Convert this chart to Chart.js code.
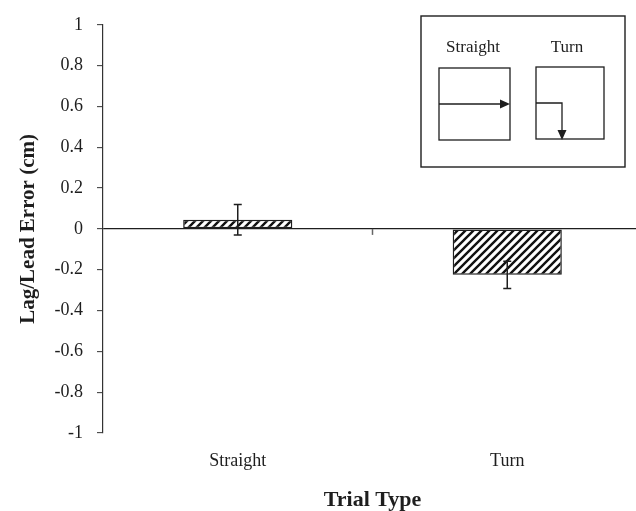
<!DOCTYPE html>
<html><head><meta charset="utf-8">
<script src="https://cdn.jsdelivr.net/npm/chart.js@4.4.1/dist/chart.umd.min.js"></script>
<style>html,body{margin:0;padding:0;overflow:hidden;background:#fff}#wrap{width:642px;height:511px}</style>
</head><body><div id="wrap"><canvas id="c" width="642" height="511"></canvas></div>
<script>
const categories = ['Straight', 'Turn'];
const meanError = [0.045, -0.225];
const errorSize = [0.075, 0.067];
const yTickValues = [1, 0.8, 0.6, 0.4, 0.2, 0, -0.2, -0.4, -0.6, -0.8, -1];
const yTickLabels = ['1', '0.8', '0.6', '0.4', '0.2', '0', '-0.2', '-0.4', '-0.6', '-0.8', '-1'];
const insetLabels = ['Straight', 'Turn'];

const FONT = '"Liberation Serif", "Times New Roman", serif';
const INK = '#1e1e1e';

const canvas = document.getElementById('c');
const ctx = canvas.getContext('2d');

function hatch() {
  const s = 8;
  const c = document.createElement('canvas');
  c.width = s; c.height = s;
  const g = c.getContext('2d');
  g.fillStyle = '#fff'; g.fillRect(0, 0, s, s);
  g.strokeStyle = '#111'; g.lineWidth = 2.4;
  g.beginPath();
  g.moveTo(-1, s + 1); g.lineTo(s + 1, -1);
  g.moveTo(-s / 2 - 1, s / 2 + 1); g.lineTo(s / 2 + 1, -s / 2 - 1);
  g.moveTo(s / 2 - 1, s * 1.5 + 1); g.lineTo(s * 1.5 + 1, s / 2 - 1);
  g.stroke();
  return ctx.createPattern(c, 'repeat');
}

const errorBars = {
  id: 'errorBars',
  afterDatasetsDraw(chart) {
    const ys = chart.scales.y;
    const meta = chart.getDatasetMeta(0);
    const c = chart.ctx;
    c.save();
    c.strokeStyle = INK; c.lineWidth = 1.5;
    meta.data.forEach((bar, i) => {
      const x = bar.x;
      const hi = ys.getPixelForValue(meanError[i] + errorSize[i]);
      const lo = ys.getPixelForValue(meanError[i] - errorSize[i]);
      c.beginPath();
      c.moveTo(x, hi); c.lineTo(x, lo);
      c.moveTo(x - 4, hi); c.lineTo(x + 4, hi);
      c.moveTo(x - 4, lo); c.lineTo(x + 4, lo);
      c.stroke();
    });
    const xs = chart.scales.x;
    const mid = (xs.getPixelForValue(0) + xs.getPixelForValue(1)) / 2;
    const y0 = ys.getPixelForValue(0);
    c.strokeStyle = '#666'; c.lineWidth = 1.5;
    c.beginPath(); c.moveTo(mid, y0); c.lineTo(mid, y0 + 6); c.stroke();
    c.restore();
  }
};

function arrowHead(c, tx, ty, dir) {
  c.beginPath();
  if (dir === 'right') { c.moveTo(tx, ty); c.lineTo(tx - 10, ty - 4.5); c.lineTo(tx - 10, ty + 4.5); }
  else { c.moveTo(tx, ty); c.lineTo(tx - 4.5, ty - 10); c.lineTo(tx + 4.5, ty - 10); }
  c.closePath(); c.fill();
}

const inset = {
  id: 'inset',
  afterDraw(chart) {
    const c = chart.ctx;
    c.save();
    c.strokeStyle = INK; c.fillStyle = INK; c.lineWidth = 1.4;
    c.strokeRect(421, 16, 204, 151);
    c.font = '17px ' + FONT;
    c.textAlign = 'center'; c.textBaseline = 'alphabetic';
    c.fillText(insetLabels[0], 473, 52);
    c.fillText(insetLabels[1], 567, 52);
    c.lineWidth = 1.3;
    c.strokeRect(439, 68, 71, 72);
    c.strokeRect(536, 67, 68, 72);
    c.beginPath(); c.moveTo(439, 104); c.lineTo(502, 104); c.stroke();
    arrowHead(c, 510, 104, 'right');
    c.beginPath(); c.moveTo(536, 103); c.lineTo(562, 103); c.lineTo(562, 131); c.stroke();
    arrowHead(c, 562, 140, 'down');
    c.restore();
  }
};

new Chart(ctx, {
  type: 'bar',
  data: {
    labels: categories,
    datasets: [{
      data: meanError,
      backgroundColor: hatch(),
      borderColor: INK,
      borderWidth: 1.5,
      borderSkipped: false,
      barPercentage: 0.405,
      categoryPercentage: 1
    }]
  },
  options: {
    responsive: false,
    devicePixelRatio: 1,
    animation: false,
    layout: { padding: { top: 22, right: 0, bottom: 0, left: 0 } },
    plugins: { legend: { display: false }, tooltip: { enabled: false } },
    scales: {
      x: {
        offset: true,
        grid: { display: false },
        border: { display: false },
        ticks: { padding: 9, color: INK, font: { family: FONT, size: 18 } },
        title: { display: true, text: 'Trial Type', color: INK, font: { family: FONT, size: 22, weight: 'bold' }, padding: { top: 0, bottom: -3 } },
        afterFit(s) { s.height = 78; }
      },
      y: {
        min: -1, max: 1,
        ticks: {
          stepSize: 0.2, padding: 14, color: INK, font: { family: FONT, size: 18 },
          callback(v) {
            const i = yTickValues.findIndex(t => Math.abs(t - v) < 1e-6);
            return i >= 0 ? yTickLabels[i] : '';
          }
        },
        grid: {
          drawOnChartArea: true,
          color: (c) => (c.tick && Math.abs(c.tick.value) < 1e-6) ? INK : 'rgba(0,0,0,0)',
          lineWidth: 1.3,
          tickLength: 6,
          tickColor: '#333',
          tickWidth: 1
        },
        border: { display: true, color: '#333', width: 1.2 },
        title: { display: true, text: 'Lag/Lead Error (cm)', color: INK, font: { family: FONT, size: 21, weight: 'bold' }, padding: { top: 16, bottom: 0 } },
        afterFit(s) { s.width = 103; }
      }
    }
  },
  plugins: [errorBars, inset]
});
</script>
</body></html>
